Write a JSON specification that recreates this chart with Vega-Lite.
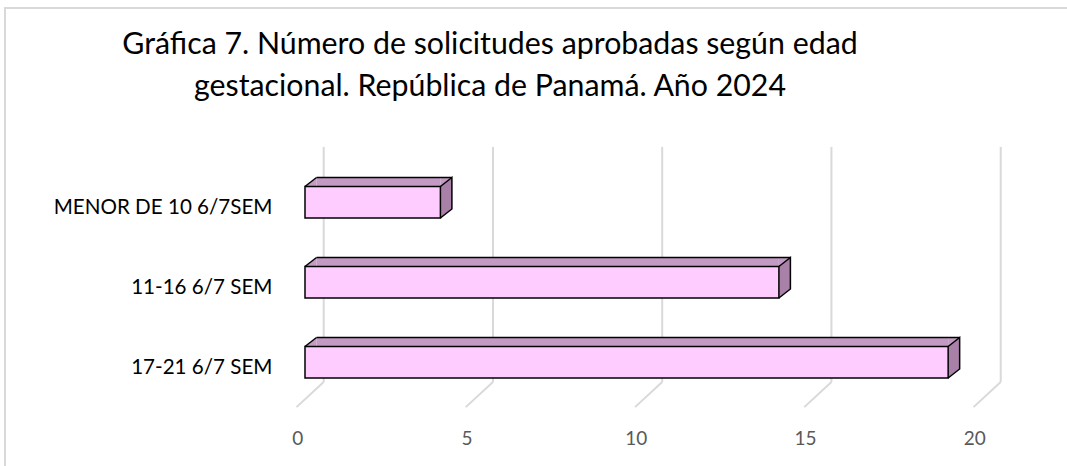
{
  "$schema": "https://vega.github.io/schema/vega-lite/v6.json",
  "autosize": {"type": "none"},
  "padding": {"left": 5, "top": 8, "right": 0, "bottom": 0},
  "width": 1070,
  "height": 560,
  "background": "#ffffff",
  "config": {"view": {"stroke": "#D9D9D9", "strokeWidth": 2}, "font": "Lato"},
  "title": {
    "text": ["Gráfica 7. Número de solicitudes aprobadas según edad", "gestacional. República de Panamá. Año 2024"],
    "anchor": "middle",
    "frame": "group",
    "dx": -50,
    "offset": -94,
    "fontSize": 30.3,
    "font": "Lato",
    "fontWeight": "normal",
    "color": "#000000",
    "lineHeight": 41.5,
    "baseline": "top"
  },
  "datasets": {
    "bars": [
      {"cat": "MENOR DE 10 6/7SEM", "value": 4},
      {"cat": "11-16 6/7 SEM", "value": 14},
      {"cat": "17-21 6/7 SEM", "value": 19}
    ],
    "ticks": [
      {"tick": 0}, {"tick": 5}, {"tick": 10}, {"tick": 15}, {"tick": 20}
    ]
  },
  "layer": [
    {
      "data": {"name": "ticks"},
      "mark": {"type": "rule", "color": "#D9D9D9", "strokeWidth": 2, "xOffset": 18.7, "yOffset": -55.3, "y2Offset": 19.7},
      "encoding": {
        "x": {
          "field": "tick", "type": "quantitative", "title": null,
          "scale": {"domain": [-8.8626, 22.7474], "nice": false, "zero": false},
          "axis": {"values": [0, 5, 10, 15, 20], "orient": "bottom", "offset": -139, "domain": false, "ticks": false, "grid": false, "labelPadding": 0, "labelBaseline": "top", "labelOffset": -7.7, "labelFont": "Lato", "labelFontSize": 19, "labelColor": "#595959", "labelFlush": false, "labelOverlap": false, "format": "d", "title": null}
        },
        "y": {"datum": "MENOR DE 10 6/7SEM", "type": "nominal"},
        "y2": {"datum": "17-21 6/7 SEM"}
      }
    },
    {
      "data": {"name": "ticks"},
      "mark": {"type": "rule", "color": "#D9D9D9", "strokeWidth": 2, "xOffset": 18.7, "x2Offset": -8.5, "yOffset": 19.7, "y2Offset": 44.9},
      "encoding": {
        "x": {"field": "tick", "type": "quantitative", "title": null},
        "x2": {"field": "tick"},
        "y": {"datum": "17-21 6/7 SEM", "type": "nominal"},
        "y2": {"datum": "17-21 6/7 SEM"}
      }
    },
    {
      "data": {"name": "bars"},
      "mark": {"type": "bar", "color": "#C39AC3", "size": 9, "yOffset": -20.25, "x2Offset": 11.5},
      "encoding": {
        "x": {"field": "value", "type": "quantitative", "title": null},
        "x2": {"datum": 0},
        "y": {
          "field": "cat", "type": "nominal", "sort": null, "title": null,
          "scale": {"domain": [" ", "MENOR DE 10 6/7SEM", "11-16 6/7 SEM", "17-21 6/7 SEM", "  "], "paddingInner": 0, "paddingOuter": 1, "align": 0.464, "round": false},
          "axis": {"values": ["MENOR DE 10 6/7SEM", "11-16 6/7 SEM", "17-21 6/7 SEM"], "orient": "left", "offset": -267, "domain": false, "ticks": false, "grid": false, "labelPadding": 0, "labelOffset": 6, "labelFont": "Lato", "labelFontSize": 20.6, "labelColor": "#000000", "labelLimit": 400, "title": null}
        }
      }
    },
    {
      "data": {"name": "bars"},
      "mark": {"type": "point", "shape": "M0,-15.75L11.5,-24.75L11.5,-15.75Z", "size": 4, "filled": true, "color": "#C39AC3", "opacity": 1, "strokeWidth": 0},
      "encoding": {
        "x": {"datum": 0, "type": "quantitative"},
        "y": {"field": "cat", "type": "nominal", "sort": null, "title": null}
      }
    },
    {
      "data": {"name": "bars"},
      "mark": {"type": "point", "shape": "M0,-24.75L11.5,-24.75L0,-15.75Z", "size": 4, "filled": true, "color": "#C39AC3", "opacity": 1, "strokeWidth": 0},
      "encoding": {
        "x": {"field": "value", "type": "quantitative", "title": null},
        "y": {"field": "cat", "type": "nominal", "sort": null, "title": null}
      }
    },
    {
      "data": {"name": "bars"},
      "mark": {"type": "point", "shape": "M0,-15.75L11.5,-24.75L11.5,6.75L0,15.75Z", "size": 4, "filled": true, "color": "#A880A8", "opacity": 1, "strokeWidth": 0},
      "encoding": {
        "x": {"field": "value", "type": "quantitative", "title": null},
        "y": {"field": "cat", "type": "nominal", "sort": null, "title": null}
      }
    },
    {
      "data": {"name": "bars"},
      "mark": {"type": "bar", "fill": "#FFCCFF", "stroke": "#000000", "strokeWidth": 1.5, "size": 31.5},
      "encoding": {
        "x": {"field": "value", "type": "quantitative", "title": null},
        "x2": {"datum": 0},
        "y": {"field": "cat", "type": "nominal", "sort": null, "title": null}
      }
    },
    {
      "data": {"name": "bars"},
      "mark": {"type": "point", "shape": "M0,-15.75L11.5,-24.75", "size": 4, "filled": false, "stroke": "#000000", "strokeWidth": 1.5, "opacity": 1},
      "encoding": {
        "x": {"datum": 0, "type": "quantitative"},
        "y": {"field": "cat", "type": "nominal", "sort": null, "title": null}
      }
    },
    {
      "data": {"name": "bars"},
      "mark": {"type": "rule", "color": "#000000", "strokeWidth": 1.5, "xOffset": 11.5, "x2Offset": 11.5, "yOffset": -24.75},
      "encoding": {
        "x": {"field": "value", "type": "quantitative", "title": null},
        "x2": {"datum": 0},
        "y": {"field": "cat", "type": "nominal", "sort": null, "title": null}
      }
    },
    {
      "data": {"name": "bars"},
      "mark": {"type": "point", "shape": "M0,-15.75L11.5,-24.75L11.5,6.75L0,15.75", "size": 4, "filled": false, "stroke": "#000000", "strokeWidth": 1.5, "opacity": 1},
      "encoding": {
        "x": {"field": "value", "type": "quantitative", "title": null},
        "y": {"field": "cat", "type": "nominal", "sort": null, "title": null}
      }
    }
  ]
}
